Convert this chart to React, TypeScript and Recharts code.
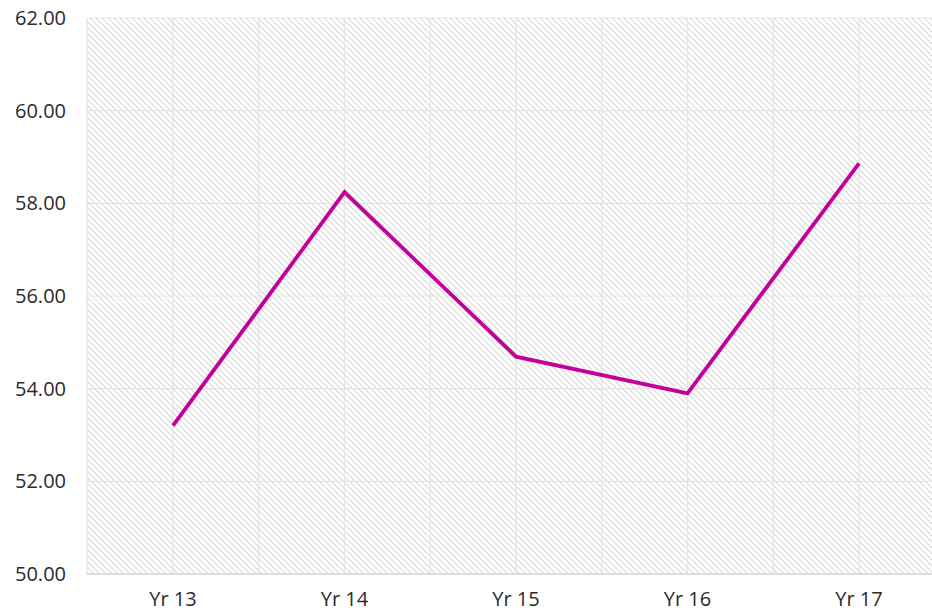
import React from "react";
import { LineChart, Line, XAxis, YAxis, CartesianGrid } from "recharts";

const categories = ["Yr 13", "Yr 14", "Yr 15", "Yr 16", "Yr 17"];
const values = [53.2, 58.24, 54.69, 53.9, 58.86];
const yTicks = [50, 52, 54, 56, 58, 60, 62];

const data = categories.map((name, i) => ({ name, value: values[i] }));

const tickStyle = {
  fill: "#2b2b2b",
  fontSize: 20,
  fontFamily: "'Open Sans', sans-serif",
};

export default function App() {
  return (
    <div
      style={{
        position: "fixed",
        left: 0,
        top: 0,
        width: 932,
        height: 612,
        overflow: "hidden",
        background: "#fff",
      }}
    >
      <LineChart
        width={945}
        height={612}
        data={data}
        margin={{ top: 18, right: 0, bottom: 0, left: 0 }}
      >
        <defs>
          <pattern
            id="hatch"
            patternUnits="userSpaceOnUse"
            width={6}
            height={6}
          >
            <rect width={6} height={6} fill="#ffffff" />
            <path
              d="M0,0 L6,6 M-1,5 L1,7 M5,-1 L7,1"
              stroke="#dadada"
              strokeWidth={1.2}
            />
          </pattern>
        </defs>
        <CartesianGrid
          fill="url(#hatch)"
          fillOpacity={1}
          stroke="#e4e4e4"
          strokeWidth={1.2}
          verticalCoordinatesGenerator={({ offset }: any) =>
            Array.from(
              { length: categories.length * 2 + 1 },
              (_, i) => offset.left + (i * offset.width) / (categories.length * 2)
            )
          }
        />
        <XAxis
          dataKey="name"
          padding={{ left: 86, right: 86 }}
          height={38}
          tickLine={false}
          tickSize={0}
          tickMargin={18}
          axisLine={{ stroke: "#d6d6d6", strokeWidth: 1.5 }}
          tick={tickStyle}
        />
        <YAxis
          domain={[50, 62]}
          ticks={yTicks}
          width={87}
          axisLine={false}
          tickLine={false}
          tickSize={0}
          tickMargin={21}
          tickFormatter={(v: number) => v.toFixed(2)}
          tick={tickStyle}
        />
        <Line
          type="linear"
          dataKey="value"
          stroke="#c4009a"
          strokeWidth={3.8}
          dot={false}
          activeDot={false}
          isAnimationActive={false}
        />
      </LineChart>
    </div>
  );
}
